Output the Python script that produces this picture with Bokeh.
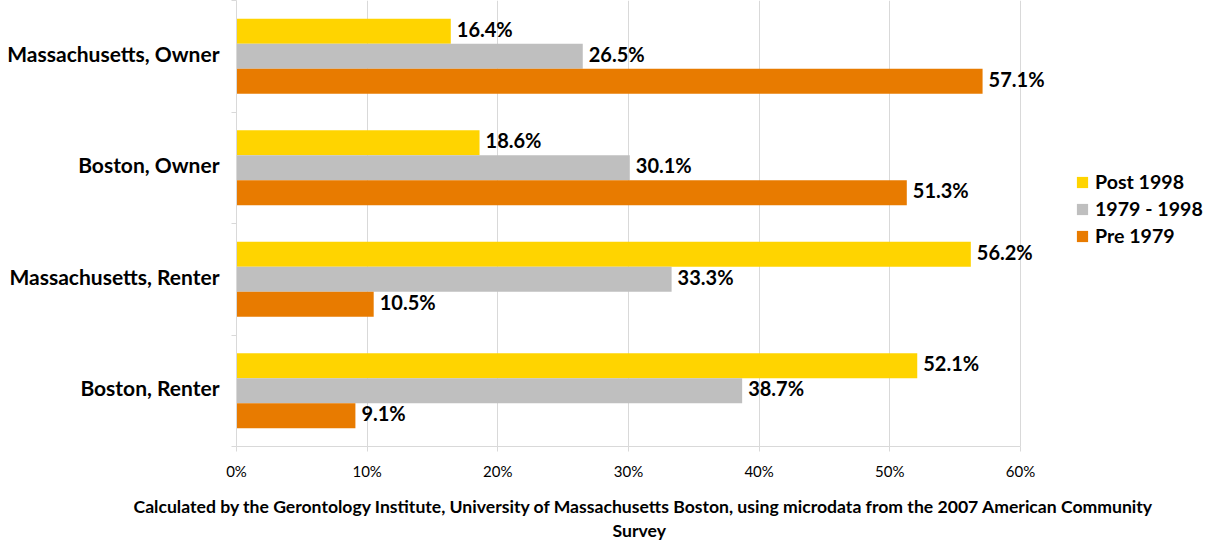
from bokeh.plotting import figure
from bokeh.models import (ColumnDataSource, LabelSet, Legend, LegendItem, FixedTicker,
                          Range1d, Title)
from bokeh.core.properties import value
from bokeh.embed import file_html
from bokeh.resources import INLINE

categories = ["Massachusetts, Owner", "Boston, Owner", "Massachusetts, Renter", "Boston, Renter"]
series_names = ["Post 1998", "1979 - 1998", "Pre 1979"]
post_1998 = [16.4, 18.6, 56.2, 52.1]
y1979_1998 = [26.5, 30.1, 33.3, 38.7]
pre_1979 = [57.1, 51.3, 10.5, 9.1]
x_ticks = [0, 10, 20, 30, 40, 50, 60]
x_tick_labels = ["0%", "10%", "20%", "30%", "40%", "50%", "60%"]
colors = ["#FFD400", "#BFBFBF", "#E87B00"]
caption1 = "Calculated by the Gerontology Institute, University of Massachusetts Boston, using microdata from the 2007 American Community"
caption2 = "Survey"

FONT = "Lato"
n = len(categories)
centers = [n - i - 0.5 for i in range(n)]
bar_h = 0.224
offsets = [bar_h, 0.0, -bar_h]
label_nudge = 0.027  # small visual alignment of category labels

p = figure(width=1211, height=544, output_backend="svg", toolbar_location=None,
           x_range=Range1d(0, 74.62), y_range=Range1d(0, 4),
           min_border_left=236, min_border_right=0, min_border_top=0, min_border_bottom=98)
p.outline_line_color = None
p.background_fill_color = "white"

items = []
for s, vals, col, off in zip(series_names, [post_1998, y1979_1998, pre_1979], colors, offsets):
    src = ColumnDataSource(dict(y=[c + off for c in centers], v=vals,
                                lab=["%.1f%%" % v for v in vals]))
    r = p.hbar(y="y", left=0, right="v", height=bar_h, source=src, fill_color=col, line_color=None)
    items.append(LegendItem(label=s, renderers=[r]))
    p.add_layout(LabelSet(x="v", y="y", text="lab", source=src, x_offset=6, y_offset=2.5,
                          text_baseline="middle",
                          text_font=value(FONT), text_font_style="bold", text_font_size="20px",
                          text_color="black"))

# x axis
p.xaxis.ticker = FixedTicker(ticks=x_ticks)
p.xaxis.bounds = (0, 60)
p.xaxis.major_label_overrides = {t: l for t, l in zip(x_ticks, x_tick_labels)}
p.xaxis.major_label_text_font = FONT
p.xaxis.major_label_text_font_size = "15px"
p.xaxis.major_label_text_color = "black"
p.xaxis.major_label_standoff = 10
p.xaxis.axis_line_color = "#D9D9D9"
p.xaxis.major_tick_line_color = "#D9D9D9"
p.xaxis.major_tick_out = 5
p.xaxis.major_tick_in = 0
p.xaxis.minor_tick_out = 0
p.xaxis.minor_tick_line_color = None
p.xaxis.axis_label = " "
p.xaxis.axis_label_text_font = FONT
p.xaxis.axis_label_text_font_size = "4px"
p.xaxis.axis_label_standoff = 3

# y axis
label_ticks = [c + label_nudge for c in centers]
p.yaxis.ticker = FixedTicker(ticks=label_ticks, minor_ticks=[0, 1, 2, 3, 4])
p.yaxis.major_label_overrides = {t: cat for t, cat in zip(label_ticks, categories)}
p.yaxis.major_label_text_font = FONT
p.yaxis.major_label_text_font_style = "bold"
p.yaxis.major_label_text_font_size = "21px"
p.yaxis.major_label_text_color = "black"
p.yaxis.major_label_standoff = 12
p.yaxis.axis_line_color = "#D9D9D9"
p.yaxis.major_tick_line_color = None
p.yaxis.major_tick_out = 0
p.yaxis.major_tick_in = 0
p.yaxis.minor_tick_line_color = "#D9D9D9"
p.yaxis.minor_tick_out = 5
p.yaxis.minor_tick_in = 0

p.xgrid.grid_line_color = "#D9D9D9"
p.xgrid.bounds = (0, 60)
p.xgrid.ticker = FixedTicker(ticks=x_ticks)
p.ygrid.grid_line_color = None

legend = Legend(items=items, location=(839, 199), orientation="vertical",
                label_text_font=FONT, label_text_font_style="bold", label_text_font_size="19.6px",
                label_text_color="black", glyph_width=14, glyph_height=14, label_height=21,
                spacing=4, padding=0, margin=0, border_line_color=None,
                background_fill_alpha=0, label_standoff=6)
p.add_layout(legend, "center")

for txt, off, so in [(caption1, -103, 0), (caption2, 376, 2)]:
    t = Title(text=txt, align="left", text_font=FONT, text_font_style="bold",
              text_font_size="17.6px", text_color="black", offset=off, standoff=so)
    p.add_layout(t, "below")

open("out.html", "w").write(file_html(p, INLINE))
